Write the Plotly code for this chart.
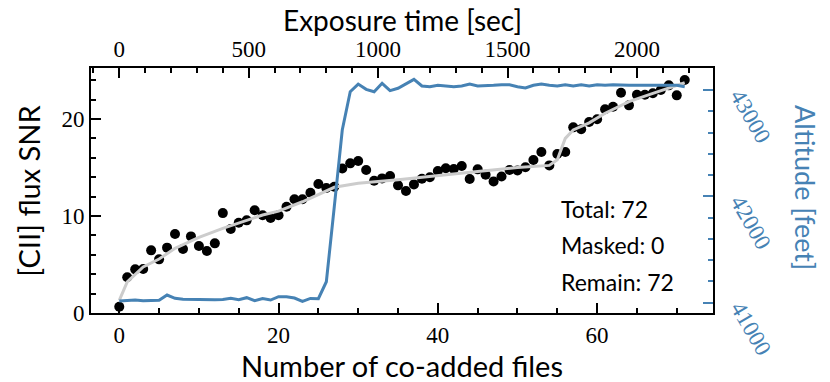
import plotly.graph_objects as go

# Number of co-added files (x) and the measured [CII] flux SNR
files = list(range(72))
snr = [0.65, 3.68, 4.5, 4.54, 6.46, 5.53, 6.74, 8.14, 6.6, 7.9,
       6.9, 6.4, 7.18, 10.3, 8.66, 9.31, 9.55, 10.6, 10.07, 9.79,
       10.07, 10.96, 11.72, 11.72, 12.4, 13.3, 12.89, 13.02, 14.9, 15.43,
       15.67, 14.74, 13.64, 13.88, 14.12, 13.16, 12.58, 13.26, 13.85, 13.99,
       14.64, 14.92, 14.85, 15.15, 13.81, 14.81, 14.26, 13.57, 14.07, 14.74,
       14.7, 15.02, 15.77, 16.6, 15.22, 16.39, 16.6, 19.14, 18.94, 19.69,
       19.97, 21.0, 21.27, 22.71, 21.41, 22.5, 22.5, 22.65, 22.99, 23.47,
       22.44, 24.02]

# Expected SNR curve (grey line)
fit_files = [0, 1, 3, 5, 7, 10, 13, 15, 18, 20, 23, 27, 30, 35, 40, 45, 50, 54,
             55, 56, 57, 59, 61, 64, 67, 71]
fit_snr = [1.3, 3.2, 4.75, 5.56, 6.67, 7.8, 8.73, 9.25, 10.1, 10.5, 11.47, 12.96,
           13.37, 13.75, 14.2, 14.6, 15.0, 15.22,
           15.8, 18.0, 18.87, 19.6, 20.6, 21.8, 22.65, 23.74]

# Aircraft altitude per file [feet]
altitude = [41016, 41022, 41025, 41019, 41022, 41022, 41072, 41041, 41032, 41030,
            41030, 41030, 41028, 41030, 41041, 41028, 41047, 41019, 41038, 41025,
            41056, 41056, 41044, 41013, 41040, 41038, 41197, 41903, 42624, 42984,
            43056, 43006, 42984, 43063, 42994, 43016, 43056, 43100, 43038, 43031,
            43044, 43038, 43031, 43038, 43056, 43038, 43038, 43044, 43050, 43050,
            43031, 43019, 43044, 43056, 43044, 43038, 43050, 43038, 43050, 43038,
            43050, 43044, 43050, 43044, 43044, 43044, 43044, 43044, 43050, 43050,
            43044, 43031]
alt_ticks = [41000, 42000, 43000]

SEC_PER_FILE = 30.77   # exposure time of one file
n_total, n_masked = 72, 0

BLUE = "#4682b4"
SERIF = "Liberation Serif"
SANS = "Lato"

fig = go.Figure()
fig.add_trace(go.Scatter(x=files, y=snr, mode="markers",
                         marker=dict(color="black", size=10), showlegend=False))
fig.add_trace(go.Scatter(x=fit_files, y=fit_snr, mode="lines",
                         line=dict(color="#cccccc", width=3), showlegend=False))
# invisible copy on the exposure-time axis so the top axis is drawn
fig.add_trace(go.Scatter(x=[f * SEC_PER_FILE for f in files], y=snr, xaxis="x2",
                         mode="markers", marker=dict(opacity=0), hoverinfo="skip",
                         showlegend=False))
fig.add_trace(go.Scatter(x=files, y=altitude, yaxis="y2", mode="lines",
                         line=dict(color=BLUE, width=3), showlegend=False))

xlo, xhi = -3.55, 74.55
common = dict(showgrid=False, zeroline=False, showline=True, linecolor="black",
              linewidth=2, ticks="inside", ticklen=10, tickwidth=1.5, automargin=False)

# page body adds 8px, so the figure is 8px smaller than the window
fig.update_layout(
    width=822, height=374, autosize=False,
    margin=dict(l=83, r=117, t=60, b=69),
    plot_bgcolor="white", paper_bgcolor="white",
    xaxis=dict(range=[xlo, xhi], tick0=0, dtick=20, tickcolor="black",
               tickfont=dict(family=SERIF, size=23, color="black"),
               minor=dict(dtick=5, ticks="inside", ticklen=5, tickcolor="black", tickwidth=1.5),
               **common),
    xaxis2=dict(overlaying="x", side="top", anchor="y",
                range=[xlo * SEC_PER_FILE, xhi * SEC_PER_FILE], tick0=0, dtick=500,
                tickcolor="black", tickfont=dict(family=SERIF, size=23, color="black"),
                minor=dict(dtick=100, ticks="inside", ticklen=5, tickcolor="black", tickwidth=1.5),
                **common),
    yaxis=dict(range=[0, 25.26], tick0=0, dtick=10, tickcolor="black",
               tickfont=dict(family=SERIF, size=23, color="black"),
               minor=dict(dtick=2, ticks="inside", ticklen=5, tickcolor="black", tickwidth=1.5),
               **common),
    yaxis2=dict(overlaying="y", side="right", anchor="x", range=[40903, 43207],
                tick0=41000, dtick=1000, tickcolor=BLUE, showticklabels=False,
                minor=dict(dtick=200, ticks="inside", ticklen=5, tickcolor=BLUE, tickwidth=1.5),
                **common),
)

# slanted altitude tick labels, hanging below each tick
for t in alt_ticks:
    fig.add_annotation(text=str(t), xref="paper", yref="y2", x=1.0606, y=t, yshift=-26,
                       textangle=60, showarrow=False, xanchor="center", yanchor="middle",
                       font=dict(family=SERIF, size=23, color=BLUE))

title_font = dict(family=SANS, size=29, color="black")
fig.add_annotation(text="Number of co-added files", xref="paper", yref="paper",
                   x=0.5, y=-0.216, showarrow=False, font=title_font,
                   xanchor="center", yanchor="middle")
fig.add_annotation(text="Exposure time [sec]", xref="paper", yref="paper",
                   x=0.5, y=1.196, showarrow=False,
                   font=dict(family=SANS, size=28, color="black"),
                   xanchor="center", yanchor="middle")
fig.add_annotation(text="[CII] flux SNR", xref="paper", yref="paper",
                   x=-0.101, y=0.5, showarrow=False, font=title_font, textangle=-90,
                   xanchor="center", yanchor="middle")
fig.add_annotation(text="Altitude [feet]", xref="paper", yref="paper",
                   x=1.1495, y=0.51, showarrow=False, textangle=90,
                   font=dict(family=SANS, size=27, color=BLUE),
                   xanchor="center", yanchor="middle")

stats = [f"Total: {n_total}", f"Masked: {n_masked}", f"Remain: {n_total - n_masked}"]
for k, s in enumerate(stats):
    fig.add_annotation(text=s, xref="paper", yref="paper", x=0.752, y=0.4265 - 0.149 * k,
                       showarrow=False, xanchor="left", yanchor="middle",
                       font=dict(family=SANS, size=23, color="black"))

fig.write_html("out.html")
